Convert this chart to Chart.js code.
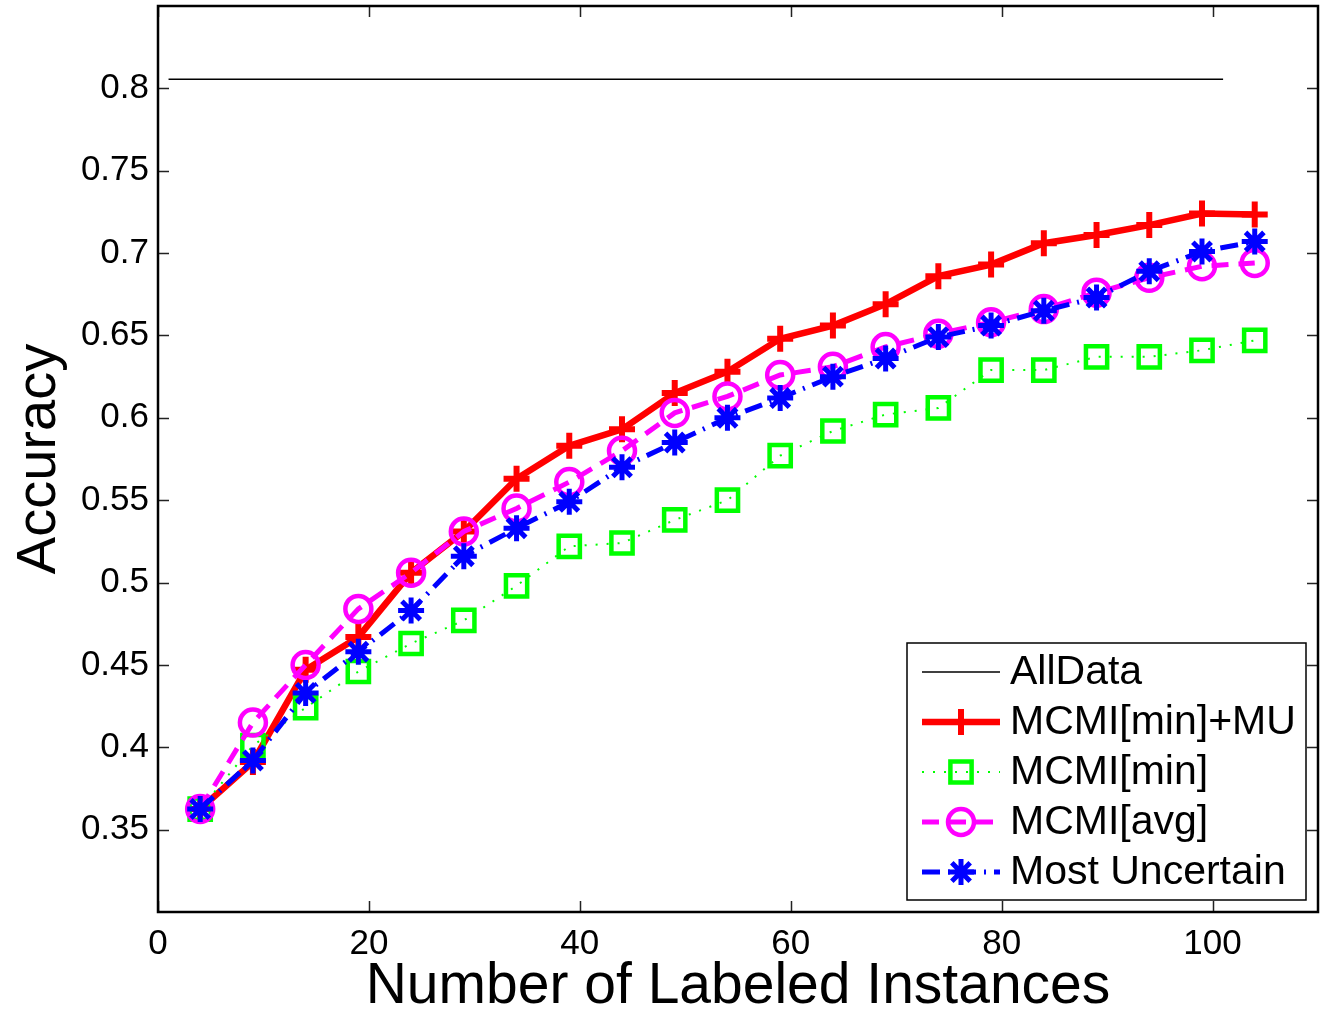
<!DOCTYPE html>
<html>
<head>
<meta charset="utf-8">
<title>Accuracy vs labeled instances</title>
<script src="https://cdn.jsdelivr.net/npm/chart.js@4.4.1/dist/chart.umd.min.js"></script>
<style>
  html, body { margin: 0; padding: 0; background: #fff; }
  #wrap { width: 1329px; height: 1019px; }
</style>
</head>
<body>
<div id="wrap"><canvas id="accChart" width="1329" height="1019"></canvas></div>
<script>
// ---------------------------------------------------------------------------
// Data
// ---------------------------------------------------------------------------
const N_LABELED = [4, 9, 14, 19, 24, 29, 34, 39, 44, 49, 54, 59, 64, 69, 74, 79, 84, 89, 94, 99, 104];

const MCMI_MIN_MU = [0.3625, 0.391, 0.447, 0.467, 0.506, 0.531, 0.563, 0.583, 0.593, 0.615, 0.628,
                     0.648, 0.656, 0.669, 0.686, 0.693, 0.706, 0.711, 0.717, 0.724, 0.7235];
const MCMI_MIN    = [0.3625, 0.401, 0.424, 0.446, 0.463, 0.477, 0.498, 0.522, 0.524, 0.538, 0.550,
                     0.577, 0.592, 0.602, 0.606, 0.629, 0.629, 0.637, 0.637, 0.641, 0.647];
const MCMI_AVG    = [0.3625, 0.415, 0.450, 0.484, 0.506, 0.531, 0.545, 0.561, 0.580, 0.603, 0.613,
                     0.626, 0.631, 0.643, 0.651, 0.658, 0.666, 0.676, 0.685, 0.692, 0.694];
const MOST_UNCERT = [0.3625, 0.392, 0.433, 0.458, 0.483, 0.516, 0.533, 0.549, 0.570, 0.585, 0.600,
                     0.612, 0.625, 0.636, 0.649, 0.656, 0.665, 0.673, 0.689, 0.701, 0.707];

const ALLDATA_X = [1, 101];
const ALLDATA_Y = [0.8055, 0.8055];

const X_TICKS = [0, 20, 40, 60, 80, 100];
const Y_TICKS = [0.35, 0.4, 0.45, 0.5, 0.55, 0.6, 0.65, 0.7, 0.75, 0.8];

const FONT = "'Liberation Sans', Arial, Helvetica, sans-serif";

// ---------------------------------------------------------------------------
// Series styles
// ---------------------------------------------------------------------------
const SERIES = [
  { label: "AllData",         color: "#000000", width: 1.5, dash: [],            point: false,   radius: 0,  pw: 0 },
  { label: "MCMI[min]+MU",    color: "#ff0000", width: 6.5, dash: [],            point: "cross", radius: 13, pw: 6 },
  { label: "MCMI[min]",       color: "#00ff00", width: 2,   dash: [2, 9],        point: "rect",  radius: 15, pw: 4.5 },
  { label: "MCMI[avg]",       color: "#ff00ff", width: 5,   dash: [17, 10],      point: "circle",radius: 13, pw: 4.5 },
  { label: "Most Uncertain",  color: "#0000ff", width: 5,   dash: [18, 8, 2, 8], point: "star",  radius: 13, pw: 5 },
];

function xy(xs, ys) { return xs.map((x, i) => ({ x, y: ys[i] })); }

function makeDataset(s, data, order) {
  return {
    label: s.label,
    data,
    borderColor: s.color,
    borderWidth: s.width,
    borderDash: s.dash,
    backgroundColor: s.color,
    pointStyle: s.point,
    pointRadius: s.radius,
    pointBorderWidth: s.pw,
    pointBorderColor: s.color,
    pointBackgroundColor: "rgba(0,0,0,0)",
    fill: false,
    tension: 0,
    order,
  };
}

// ---------------------------------------------------------------------------
// Matlab-ish box with inward ticks on all four sides
// ---------------------------------------------------------------------------
const boxPlugin = {
  id: "matlabBox",
  afterDraw(chart) {
    const { ctx, chartArea: a, scales } = chart;
    const TL = 11;
    ctx.save();
    ctx.strokeStyle = "#222";
    ctx.lineWidth = 1.5;
    ctx.setLineDash([]);
    ctx.beginPath();
    X_TICKS.forEach(v => {
      const px = Math.round(scales.x.getPixelForValue(v)) + 0.5;
      ctx.moveTo(px, a.bottom); ctx.lineTo(px, a.bottom - TL);
      ctx.moveTo(px, a.top);    ctx.lineTo(px, a.top + TL);
    });
    Y_TICKS.forEach(v => {
      const py = Math.round(scales.y.getPixelForValue(v)) + 0.5;
      ctx.moveTo(a.left, py);  ctx.lineTo(a.left + TL, py);
      ctx.moveTo(a.right, py); ctx.lineTo(a.right - TL, py);
    });
    ctx.stroke();
    ctx.strokeStyle = "#000";
    ctx.lineWidth = 2.5;
    ctx.strokeRect(a.left, a.top, a.right - a.left, a.bottom - a.top);
    ctx.restore();
  },
};

// ---------------------------------------------------------------------------
// Legend box, lower right, line + marker samples
// ---------------------------------------------------------------------------
const legendPlugin = {
  id: "matlabLegend",
  afterDraw(chart) {
    const { ctx } = chart;
    const bx = 907, by = 643, bw = 399, bh = 257;
    const rowH = 50, firstY = 672;
    ctx.save();
    ctx.fillStyle = "#fff";
    ctx.fillRect(bx, by, bw, bh);
    ctx.strokeStyle = "#000";
    ctx.lineWidth = 1.5;
    ctx.strokeRect(bx, by, bw, bh);

    SERIES.forEach((s, i) => {
      const y = firstY + i * rowH;
      ctx.strokeStyle = s.color;
      ctx.lineWidth = s.width;
      ctx.setLineDash(s.dash);
      ctx.beginPath();
      ctx.moveTo(922, y);
      ctx.lineTo(1000, y);
      ctx.stroke();
      ctx.setLineDash([]);
      if (s.point) {
        ctx.strokeStyle = s.color;
        ctx.fillStyle = "rgba(0,0,0,0)";
        ctx.lineWidth = s.pw;
        Chart.helpers.drawPoint(ctx, { pointStyle: s.point, radius: s.radius, borderWidth: s.pw, rotation: 0 }, 961, y);
      }
      ctx.fillStyle = "#000";
      ctx.font = "41px " + FONT;
      ctx.textAlign = "left";
      ctx.textBaseline = "middle";
      ctx.fillText(s.label, 1010, y + 1);
    });
    ctx.restore();
  },
};

// ---------------------------------------------------------------------------
// Chart
// ---------------------------------------------------------------------------
const datasets = [
  makeDataset(SERIES[0], xy(ALLDATA_X, ALLDATA_Y), 4),
  makeDataset(SERIES[1], xy(N_LABELED, MCMI_MIN_MU), 3),
  makeDataset(SERIES[2], xy(N_LABELED, MCMI_MIN), 2),
  makeDataset(SERIES[3], xy(N_LABELED, MCMI_AVG), 1),
  makeDataset(SERIES[4], xy(N_LABELED, MOST_UNCERT), 0),
];

new Chart(document.getElementById("accChart"), {
  type: "line",
  data: { datasets },
  options: {
    responsive: false,
    animation: false,
    events: [],
    layout: { autoPadding: false, padding: { top: 6, right: 11, left: 0, bottom: 0 } },
    plugins: {
      legend: { display: false },
      tooltip: { enabled: false },
    },
    scales: {
      x: {
        type: "linear",
        min: 0,
        max: 110,
        afterBuildTicks: scale => { scale.ticks = X_TICKS.map(v => ({ value: v })); },
        afterFit: scale => {
          scale.height = 107;
          scale.paddingLeft = 0;
          scale.paddingRight = 0;
        },
        grid: { display: false, drawTicks: false },
        border: { display: false },
        ticks: {
          padding: 11,
          maxRotation: 0,
          autoSkip: false,
          color: "#000",
          font: { family: FONT, size: 35 },
          callback: v => String(v),
        },
        title: {
          display: true,
          text: "Number of Labeled Instances",
          color: "#000",
          font: { family: FONT, size: 57, lineHeight: 1.1 },
          padding: { top: 0, bottom: 0 },
        },
      },
      y: {
        type: "linear",
        min: 0.3,
        max: 0.85,
        afterBuildTicks: scale => { scale.ticks = Y_TICKS.map(v => ({ value: v })); },
        afterFit: scale => {
          scale.width = 158;
          scale.paddingTop = 0;
          scale.paddingBottom = 0;
        },
        grid: { display: false, drawTicks: false },
        border: { display: false },
        ticks: {
          padding: 9,
          autoSkip: false,
          color: "#000",
          font: { family: FONT, size: 35 },
          callback: v => String(v),
        },
        title: {
          display: true,
          text: "Accuracy",
          color: "#000",
          font: { family: FONT, size: 56, lineHeight: 1.2 },
          padding: { top: 6, bottom: 0 },
        },
      },
    },
  },
  plugins: [boxPlugin, legendPlugin],
});
</script>
</body>
</html>
